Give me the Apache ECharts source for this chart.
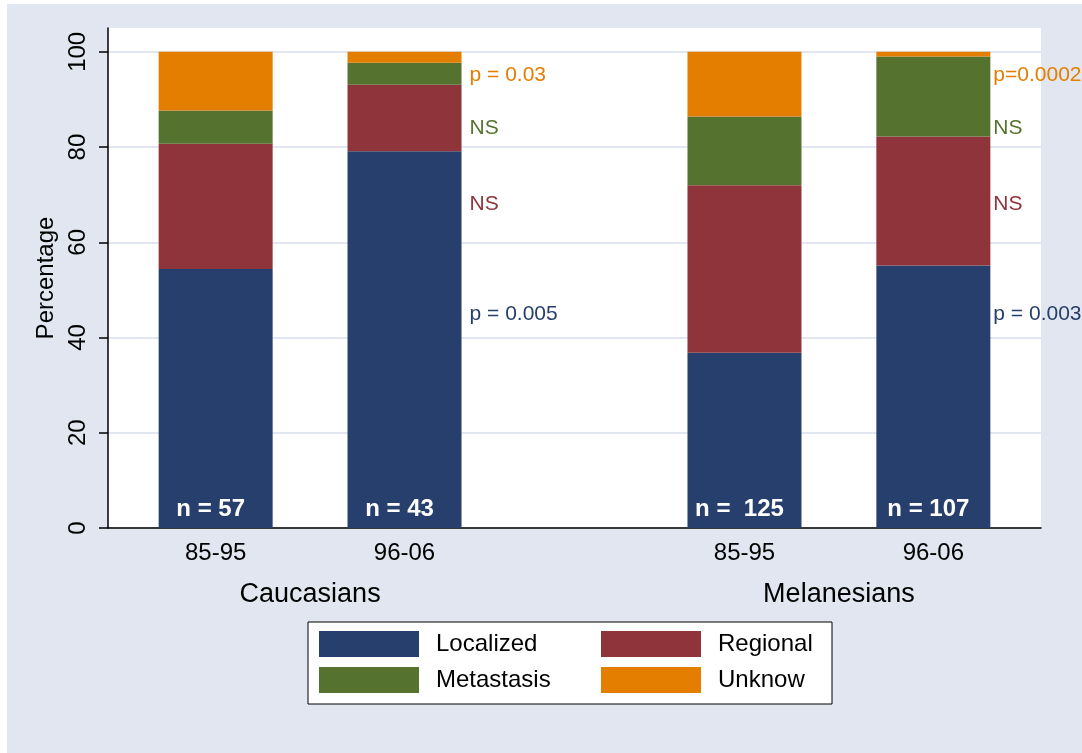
<!DOCTYPE html>
<html>
<head>
<meta charset="utf-8">
<title>Stage at diagnosis by period and population</title>
<script src="https://cdn.jsdelivr.net/npm/echarts@6/dist/echarts.min.js"></script>
<style>
  html, body { margin: 0; padding: 0; background: #ffffff; }
  #chart { position: absolute; left: 7px; top: 4px; width: 1075px; height: 749px; }
</style>
</head>
<body>
<div id="chart"></div>
<script>
// Stage categories (stack order, bottom to top)
const categories = ['Localized', 'Regional', 'Metastasis', 'Unknow'];
const groupNames = ['Caucasians', 'Melanesians'];
const periodLabels = ['85-95', '96-06', '85-95', '96-06'];
// slot of each bar along the x axis (two bars per population, gap between populations)
const barSlots = [0.57, 1.57, 3.37, 4.37];
const groupSlots = [1.07, 3.87];

// Percentages per bar
const localized  = [54.4, 79.1, 36.8, 55.1];
const regional   = [26.3, 14.0, 35.2, 27.1];
const metastasis = [7.0, 4.6, 14.4, 16.8];
const unknown    = [12.3, 2.3, 13.6, 1.0];

const sampleSizes = ['n = 57', 'n = 43', 'n =  125', 'n = 107'];

// Trend tests between periods, per stage (same order as categories)
const caucasianTests  = ['p = 0.005', 'NS', 'NS', 'p = 0.03'];
const melanesianTests = ['p = 0.003', 'NS', 'NS', 'p=0.0002'];
const testLevels = [45, 68, 84, 95];

const yTicks = [0, 20, 40, 60, 80, 100];

const colors = ['#273f6c', '#8f343b', '#55732f', '#e47e00'];
const FONT = '"Liberation Sans", Arial, Helvetica, sans-serif';

const stageValues = [localized, regional, metastasis, unknown];

// Each row is [percentage, slot]; the percentage column comes first so that
// it is the dimension the stack accumulates on.
const barSeries = categories.map((name, k) => ({
  name: name,
  type: 'bar',
  stack: 'stage',
  barWidth: 114,
  encode: { x: 1, y: 0 },
  itemStyle: { color: colors[k] },
  data: stageValues[k].map((v, i) => [v, barSlots[i]]),
  label: k === 0 ? {
    show: true,
    position: 'insideBottom',
    distance: 7,
    offset: [-5, 0],
    color: '#ffffff',
    fontFamily: FONT,
    fontWeight: 'bold',
    fontSize: 24,
    formatter: p => sampleSizes[p.dataIndex]
  } : { show: false },
  emphasis: { disabled: true }
}));

function testSeries(texts, slot, dist) {
  return {
    type: 'scatter',
    silent: true,
    symbolSize: 0,
    z: 1,
    itemStyle: { opacity: 1 },
    data: texts.map((t, k) => ({
      value: [slot, testLevels[k]],
      label: { color: colors[k] }
    })),
    label: {
      show: true,
      position: 'right',
      distance: dist,
      fontFamily: FONT,
      fontSize: 21,
      formatter: p => texts[p.dataIndex]
    }
  };
}

const chart = echarts.init(document.getElementById('chart'), null, { renderer: 'canvas' });

chart.setOption({
  backgroundColor: '#e1e6f0',
  animation: false,
  textStyle: { fontFamily: FONT },
  grid: {
    left: 101, right: 41, top: 24, bottom: 225,
    show: true, backgroundColor: '#ffffff', borderWidth: 0
  },
  legend: {
    left: 301, top: 618,
    width: 505,
    orient: 'horizontal',
    backgroundColor: '#ffffff',
    borderColor: '#000000',
    borderWidth: 1,
    padding: [9, 11, 11, 11],
    itemWidth: 100,
    itemHeight: 26,
    itemGap: 10,
    selectedMode: false,
    icon: 'rect',
    textStyle: {
      fontFamily: FONT, fontSize: 24, color: '#000000',
      lineHeight: 26, padding: [0, 0, 0, 12]
    },
    data: [
      { name: 'Localized',  textStyle: { width: 155 } },
      { name: 'Regional',   textStyle: { width: 103 } },
      { name: 'Metastasis', textStyle: { width: 155 } },
      { name: 'Unknow',     textStyle: { width: 103 } }
    ]
  },
  xAxis: [
    {
      type: 'value',
      min: 0, max: 4.94,
      axisLine: { show: true, lineStyle: { color: '#000000', width: 1.5 } },
      axisTick: { show: false },
      splitLine: { show: false },
      axisLabel: {
        customValues: barSlots,
        margin: 13,
        fontFamily: FONT, fontSize: 24, color: '#000000',
        formatter: v => periodLabels[barSlots.indexOf(v)]
      }
    },
    {
      type: 'value',
      position: 'bottom',
      min: 0, max: 4.94,
      axisLine: { show: false },
      axisTick: { show: false },
      splitLine: { show: false },
      axisLabel: {
        customValues: groupSlots,
        margin: 53,
        fontFamily: FONT, fontSize: 27, color: '#000000',
        formatter: v => groupNames[groupSlots.indexOf(v)]
      }
    }
  ],
  yAxis: {
    type: 'value',
    min: 0, max: 105,
    interval: 20,
    name: 'Percentage',
    nameLocation: 'middle',
    nameRotate: 90,
    nameGap: 48,
    nameTextStyle: { fontFamily: FONT, fontSize: 24, color: '#000000' },
    axisLine: { show: true, lineStyle: { color: '#000000', width: 1.5 } },
    axisTick: { show: true, length: 9, customValues: yTicks, lineStyle: { color: '#000000', width: 1.5 } },
    splitLine: { show: true, lineStyle: { color: '#e1e6f0', width: 2 } },
    axisLabel: {
      customValues: yTicks,
      rotate: 90,
      margin: 18,
      fontFamily: FONT, fontSize: 24, color: '#000000'
    }
  },
  series: barSeries.concat([
    testSeries(caucasianTests, barSlots[1], 65),
    testSeries(melanesianTests, barSlots[3], 60)
  ])
});
</script>
</body>
</html>
